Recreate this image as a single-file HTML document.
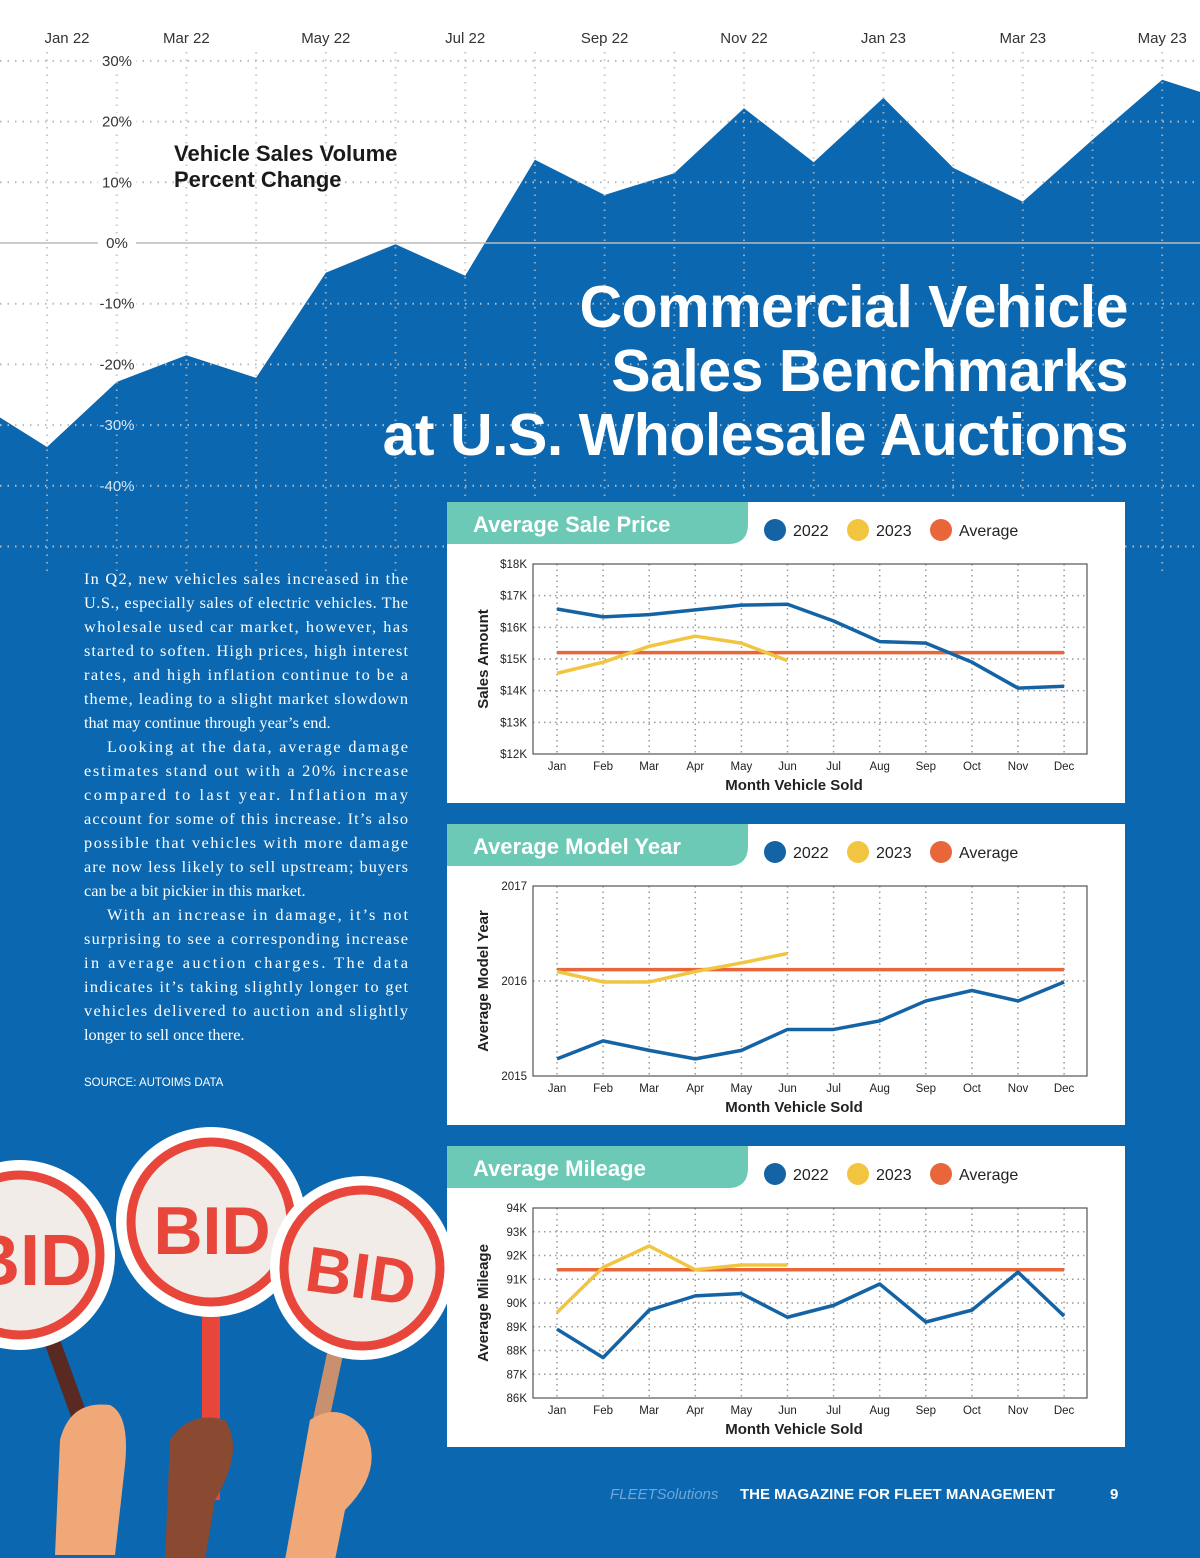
<!DOCTYPE html>
<html><head><meta charset="utf-8"><style>
body{margin:0;width:1200px;height:1558px;overflow:hidden;background:#0a67b0;font-family:"Liberation Sans",sans-serif}
svg{display:block}
</style></head><body>
<svg id="page" width="1200" height="1558" viewBox="0 0 1200 1558">
<rect x="0" y="0" width="1200" height="1558" fill="#0a67b0"/>
<g id="topchart"></g>
<g fill="#fff" font-size="59" font-weight="bold" text-anchor="end" letter-spacing="-0.5">
<text x="1128" y="327">Commercial Vehicle</text>
<text x="1128" y="391">Sales Benchmarks</text>
<text x="1128" y="455">at U.S. Wholesale Auctions</text>
</g>
<text x="174" y="161" font-size="22" font-weight="bold" fill="#1a1a1a">Vehicle Sales Volume</text>
<text x="174" y="187" font-size="22" font-weight="bold" fill="#1a1a1a">Percent Change</text>
<g fill="#fff" font-family="Liberation Serif, serif" font-size="16.3">
<text x="84" y="584" textLength="324">In Q2, new vehicles sales increased in the</text>
<text x="84" y="608" textLength="324">U.S., especially sales of electric vehicles. The</text>
<text x="84" y="632" textLength="324">wholesale used car market, however, has</text>
<text x="84" y="656" textLength="324">started to soften. High prices, high interest</text>
<text x="84" y="680" textLength="324">rates, and high inflation continue to be a</text>
<text x="84" y="704" textLength="324">theme, leading to a slight market slowdown</text>
<text x="84" y="728">that may continue through year’s end.</text>
<text x="107" y="752" textLength="301">Looking at the data, average damage</text>
<text x="84" y="776" textLength="324">estimates stand out with a 20% increase</text>
<text x="84" y="800" textLength="324">compared to last year. Inflation may</text>
<text x="84" y="824" textLength="324">account for some of this increase. It’s also</text>
<text x="84" y="848" textLength="324">possible that vehicles with more damage</text>
<text x="84" y="872" textLength="324">are now less likely to sell upstream; buyers</text>
<text x="84" y="896">can be a bit pickier in this market.</text>
<text x="107" y="920" textLength="301">With an increase in damage, it’s not</text>
<text x="84" y="944" textLength="324">surprising to see a corresponding increase</text>
<text x="84" y="968" textLength="324">in average auction charges. The data</text>
<text x="84" y="992" textLength="324">indicates it’s taking slightly longer to get</text>
<text x="84" y="1016" textLength="324">vehicles delivered to auction and slightly</text>
<text x="84" y="1040">longer to sell once there.</text>
</g>
<text x="84" y="1086" fill="#fff" font-size="11.5">SOURCE: AUTOIMS DATA</text>
<g>
<rect x="40" y="1330" width="16" height="180" fill="#5a2a22" transform="rotate(-20 48 1330)"/>
<circle cx="20" cy="1255" r="95" fill="#fff"/><circle cx="20" cy="1255" r="80" fill="#f1ece8" stroke="#e8463a" stroke-width="9"/>
<text x="30" y="1285" font-size="72" font-weight="bold" fill="#e8463a" text-anchor="middle">BID</text>
<rect x="202" y="1310" width="18" height="190" fill="#e8463a"/>
<circle cx="211" cy="1222" r="95" fill="#fff"/><circle cx="211" cy="1222" r="80" fill="#f1ece8" stroke="#e8463a" stroke-width="9"/>
<text x="212" y="1254" font-size="68" font-weight="bold" fill="#e8463a" text-anchor="middle">BID</text>
<rect x="330" y="1340" width="16" height="150" fill="#c99070" transform="rotate(12 338 1340)"/>
<circle cx="362" cy="1268" r="92" fill="#fff"/><circle cx="362" cy="1268" r="78" fill="#f1ece8" stroke="#e8463a" stroke-width="9"/>
<text x="362" y="1298" font-size="64" font-weight="bold" fill="#e8463a" text-anchor="middle" transform="rotate(8 362 1268)">BID</text>
<path d="M60 1440 q10 -40 50 -35 q20 10 15 60 l-10 90 l-60 0 z" fill="#f0a878"/>
<path d="M170 1440 q20 -30 55 -20 q20 30 -10 80 l-10 60 l-40 0 z" fill="#8a4a32"/>
<path d="M310 1420 q30 -20 55 10 q20 40 -20 80 l-10 50 l-50 0 z" fill="#f0a878"/>
</g>
<g id="charts"></g>
<g>
<text x="610" y="1499" font-size="15" font-style="italic" fill="#6ea7d8">FLEETSolutions</text>
<text x="740" y="1499" font-size="15" font-weight="bold" fill="#fff">THE MAGAZINE FOR FLEET MANAGEMENT</text>
<text x="1110" y="1499" font-size="15" font-weight="bold" fill="#fff">9</text>
</g>
</svg>
<script>
const NS="http://www.w3.org/2000/svg";
function mk(p,t,a){const e=document.createElementNS(NS,t);for(const k in a)e.setAttribute(k,a[k]);p.appendChild(e);return e;}

// ---- Top area chart data ----
const volMonths=["Dec 21","Jan 22","Feb 22","Mar 22","Apr 22","May 22","Jun 22","Jul 22","Aug 22","Sep 22","Oct 22","Nov 22","Dec 22","Jan 23","Feb 23","Mar 23","Apr 23","May 23","Jun 23"];
const volValues=[-26.4,-33.6,-22.9,-18.5,-22.2,-4.9,-0.2,-5.4,13.7,7.9,11.5,22.2,13.3,23.9,12.4,6.8,17,26.9,23.2];
const volTicks=[30,20,10,0,-10,-20,-30,-40];
const volLabels=["Jan 22","Mar 22","May 22","Jul 22","Sep 22","Nov 22","Jan 23","Mar 23","May 23"];

const vx=i=>47+(i-1)*69.7;
const vy=v=>243-v*6.07;
const topG=document.getElementById('topchart');
let bg=mk(topG,'rect',{x:0,y:0,width:1200,height:560,fill:'#fff'});


let d='M'+vx(0)+' 600';
volValues.forEach((v,i)=>{d+=' L'+vx(i).toFixed(1)+' '+vy(v).toFixed(1);});
d+=' L'+vx(volValues.length-1)+' 600 Z';
let area=mk(topG,'path',{d:d,fill:'#0a67b0'});


for(let i=1;i<volValues.length;i++){
  let g=mk(topG,'line',{x1:vx(i),y1:52,x2:vx(i),y2:575,stroke:'#bbb','stroke-width':2,'stroke-dasharray':'1.5 6','opacity':0.8});
  
  
}
[...volTicks,-50].forEach(t=>{
  let g=mk(topG,'line',{x1:0,y1:vy(t),x2:1200,y2:vy(t),stroke:'#bbb','stroke-width':t===0?1.5:2,'stroke-dasharray':t===0?'none':'1.5 6'});
  
  
});
volTicks.forEach(t=>{
  const onBlue=t<=-30;
  let bgT=mk(topG,'rect',{x:98,y:vy(t)-9,width:38,height:17,fill:onBlue?'#0a67b0':'#fff'});
  
  
  let tx=mk(topG,'text',{x:117,y:vy(t)+5,'font-size':15,'text-anchor':'middle',fill:onBlue?'#d8e6f3':'#333'});
  tx.textContent=t+'%';
  
  
});
volLabels.forEach((l,k)=>{
  let i=1+k*2;
  let tx=mk(topG,'text',{x:k===0?67:vx(i),y:43,'font-size':15,'text-anchor':'middle',fill:'#333'});
  tx.textContent=l;
  
  
});

// ---- Small charts ----
const months=["Jan","Feb","Mar","Apr","May","Jun","Jul","Aug","Sep","Oct","Nov","Dec"];
const price2022=[16.58,16.33,16.4,16.55,16.7,16.73,16.2,15.55,15.5,14.9,14.08,14.14];
const price2023=[14.55,14.9,15.4,15.72,15.5,14.95];
const priceAvg=15.2;
const priceTicks=["$18K","$17K","$16K","$15K","$14K","$13K","$12K"];
const year2022=[2015.18,2015.37,2015.27,2015.18,2015.27,2015.49,2015.49,2015.58,2015.79,2015.9,2015.79,2015.99];
const year2023=[2016.1,2015.99,2015.99,2016.1,2016.19,2016.29];
const yearAvg=2016.12;
const yearTicks=["2017","2016","2015"];
const miles2022=[88.9,87.7,89.7,90.3,90.4,89.4,89.9,90.8,89.2,89.7,91.3,89.45];
const miles2023=[89.6,91.5,92.4,91.4,91.6,91.6];
const milesAvg=91.4;
const milesTicks=["94K","93K","92K","91K","90K","89K","88K","87K","86K"];

const charts=[
 {top:502,title:"Average Sale Price",ylab:"Sales Amount",min:12,max:18,ticks:priceTicks,a:price2022,b:price2023,avg:priceAvg,name:'average-sale-price'},
 {top:824,title:"Average Model Year",ylab:"Average Model Year",min:2015,max:2017,ticks:yearTicks,a:year2022,b:year2023,avg:yearAvg,name:'average-model-year'},
 {top:1146,title:"Average Mileage",ylab:"Average Mileage",min:86,max:94,ticks:milesTicks,a:miles2022,b:miles2023,avg:milesAvg,name:'average-mileage'}
];
const root=document.getElementById('charts');
charts.forEach(c=>{
  const g=mk(root,'g',{});
  
  
  const T=c.top;
  let p=mk(g,'rect',{x:447,y:T,width:678,height:301,fill:'#fff'});
  
  
  let tab=mk(g,'path',{d:`M447 ${T} H748 V${T+22} Q748 ${T+42} 728 ${T+42} H447 Z`,fill:'#6cc9b5'});
  
  
  let tt=mk(g,'text',{x:473,y:T+30,'font-size':22,'font-weight':'bold',fill:'#fff'});
  tt.textContent=c.title;
  
  
  [["2022","#1464a5",775],["2023","#f1c53f",858],["Average","#e8663a",941]].forEach(([l,col,x])=>{
    let dot=mk(g,'circle',{cx:x,cy:T+28,r:11,fill:col});
    
    
    let lt=mk(g,'text',{x:x+18,y:T+34,'font-size':16,fill:'#222'});
    lt.textContent=l;
    
    
  });
  const x0=533,x1=1087,y0=T+62,y1=T+252;
  const X=i=>557+i*46.1;
  const Y=v=>y1-(v-c.min)/(c.max-c.min)*(y1-y0);
  const n=c.ticks.length;
  c.ticks.forEach((t,k)=>{
    const yy=y0+k*(y1-y0)/(n-1);
    if(k>0&&k<n-1){let gl=mk(g,'line',{x1:x0,y1:yy,x2:x1,y2:yy,stroke:'#999','stroke-width':1.5,'stroke-dasharray':'1.5 4'});
    
    }
    let tx=mk(g,'text',{x:527,y:yy+4,'font-size':11.5,'text-anchor':'end',fill:'#222'});
    tx.textContent=t;
    
    
  });
  months.forEach((m,i)=>{
    let gl=mk(g,'line',{x1:X(i),y1:y0,x2:X(i),y2:y1,stroke:'#999','stroke-width':1.5,'stroke-dasharray':'1.5 4'});
    
    
    let tx=mk(g,'text',{x:X(i),y:y1+16,'font-size':11.5,'text-anchor':'middle',fill:'#222'});
    tx.textContent=m;
    
    
  });
  let fr=mk(g,'rect',{x:x0,y:y0,width:x1-x0,height:y1-y0,fill:'none',stroke:'#555','stroke-width':1.2});
  
  
  let xl=mk(g,'text',{x:794,y:y1+36,'font-size':15,'font-weight':'bold','text-anchor':'middle',fill:'#222'});
  xl.textContent="Month Vehicle Sold";
  
  
  let yl=mk(g,'text',{x:0,y:0,'font-size':15,'font-weight':'bold','text-anchor':'middle',fill:'#222',transform:`translate(488 ${(y0+y1)/2}) rotate(-90)`});
  yl.textContent=c.ylab;
  
  
  let av=mk(g,'line',{x1:X(0),x2:X(11),y1:Y(c.avg),y2:Y(c.avg),stroke:'#e8663a','stroke-width':3.5});
  
  
  let lb=mk(g,'polyline',{points:c.b.map((v,i)=>X(i)+','+Y(v)).join(' '),fill:'none',stroke:'#f1c53f','stroke-width':3.5,'stroke-linejoin':'round'});
  
  
  let la=mk(g,'polyline',{points:c.a.map((v,i)=>X(i)+','+Y(v)).join(' '),fill:'none',stroke:'#1464a5','stroke-width':3.5,'stroke-linejoin':'round'});
  
  
});
</script>
</body></html>
